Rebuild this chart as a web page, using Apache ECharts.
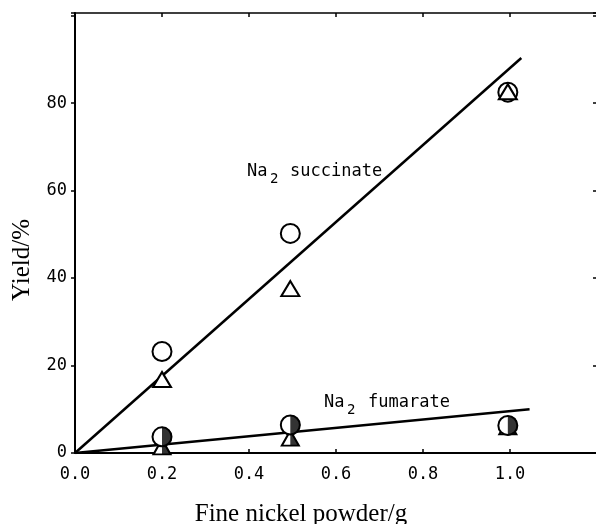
<!DOCTYPE html>
<html>
<head>
<meta charset="utf-8">
<script src="https://cdn.jsdelivr.net/npm/echarts@6/dist/echarts.min.js"></script>
<style>
  html, body { margin: 0; padding: 0; overflow: hidden; background: #fff; }
  #chart { width: 600px; height: 524px; }
</style>
</head>
<body>
<div id="chart"></div>
<script>
// values
let powder = [0.2, 0.495, 0.995];
let succinateCircle = [23.2, 50.2, 82.5];
let succinateTriangle = [16.8, 37.6, 82.6];
let fumarateCircle = [3.7, 6.4, 6.3];
let fumarateTriangle = [1.4, 3.4, 6.0];
let succinateFit = [[0, 0], [1.026, 90.3]];
let fumarateFit = [[0, 0], [1.045, 10]];
let xTicks = ["0.0", "0.2", "0.4", "0.6", "0.8", "1.0"];
let yTicks = ["0", "20", "40", "60", "80"];

const mono = "DejaVu Sans Mono";
const serif = "Liberation Serif";

function pts(ys) {
  return powder.map((x, i) => [x, ys[i]]);
}

const halfDisc = "path://M0,0 A10,10 0 0,1 0,20 Z";
const halfTri = "path://M0,0 L10,20 L0,20 Z";

let eChart = echarts.init(document.getElementById("chart"));

let scatterBase = {
  type: "scatter",
  silent: true,
  itemStyle: { color: "#fff", borderColor: "#000", borderWidth: 2, opacity: 1 }
};

function label(text, left, top, size) {
  return {
    type: "text", left: left, top: top,
    style: { text: text, fontFamily: mono, fontSize: size, fill: "#000" }
  };
}

let option = {
  animation: false,
  backgroundColor: "#fff",
  grid: { left: 75, right: 0, top: 13, bottom: 71 },
  xAxis: [
    {
      type: "value", min: 0, max: 1.2, interval: 0.2,
      axisLine: { show: true, onZero: false, lineStyle: { color: "#000", width: 2 } },
      axisTick: { show: true, inside: true, length: 4, lineStyle: { color: "#000", width: 1.5 } },
      splitLine: { show: false },
      axisLabel: {
        margin: 13, color: "#000", fontFamily: mono, fontSize: 17,
        formatter: (v, i) => xTicks[i] || ""
      }
    },
    {
      type: "value", position: "top", min: 0, max: 1.2, interval: 0.2,
      axisLine: { show: true, onZero: false, lineStyle: { color: "#000", width: 1.5 } },
      axisTick: { show: true, inside: true, length: 4, lineStyle: { color: "#000", width: 1.5 } },
      splitLine: { show: false },
      axisLabel: { show: false }
    }
  ],
  yAxis: [
    {
      type: "value", min: 0, max: 100.6, interval: 20,
      axisLine: { show: true, onZero: false, lineStyle: { color: "#000", width: 2 } },
      axisTick: { show: true, length: 4, lineStyle: { color: "#000", width: 1.5 } },
      splitLine: { show: false },
      axisLabel: {
        margin: 8, color: "#000", fontFamily: mono, fontSize: 17,
        formatter: (v, i) => yTicks[i] || ""
      }
    },
    {
      type: "value", position: "right", min: 0, max: 100.6, interval: 20,
      axisLine: { show: true, onZero: false, lineStyle: { color: "#000", width: 1.5 } },
      axisTick: { show: true, inside: true, length: 4, lineStyle: { color: "#000", width: 1.5 } },
      splitLine: { show: false },
      axisLabel: { show: false }
    }
  ],
  series: [
    {
      type: "line", data: succinateFit, showSymbol: false, silent: true, z: 2,
      lineStyle: { color: "#000", width: 2.5 }
    },
    {
      type: "line", data: fumarateFit, showSymbol: false, silent: true, z: 2,
      lineStyle: { color: "#000", width: 2.5 }
    },
    // fumarate: half filled markers
    Object.assign({}, scatterBase, { data: pts(fumarateTriangle), symbol: "triangle", symbolSize: [17, 15], z: 3 }),
    Object.assign({}, scatterBase, {
      data: pts(fumarateTriangle), symbol: halfTri, symbolSize: [8.5, 15], symbolOffset: [4.25, 0], z: 4,
      itemStyle: { color: "#000", borderWidth: 0 }
    }),
    Object.assign({}, scatterBase, { data: pts(fumarateCircle), symbol: "circle", symbolSize: 19, z: 5 }),
    Object.assign({}, scatterBase, {
      data: pts(fumarateCircle), symbol: halfDisc, symbolSize: [10, 20], symbolOffset: [5, 0], z: 6,
      itemStyle: { color: "#000", borderWidth: 0 }
    }),
    // succinate: open markers
    Object.assign({}, scatterBase, { data: pts(succinateCircle), symbol: "circle", symbolSize: 19, z: 7 }),
    Object.assign({}, scatterBase, { data: pts(succinateTriangle), symbol: "triangle", symbolSize: [18, 15], z: 8 })
  ],
  graphic: [
    label("Na", 247, 163, 17),
    label("2", 270, 172, 14),
    label("succinate", 290, 163, 17),
    label("Na", 324, 394, 17),
    label("2", 347, 403, 14),
    label("fumarate", 368, 394, 17),
    {
      type: "text", x: 301, y: 514,
      style: {
        text: "Fine nickel powder/g", fontFamily: serif, fontSize: 25, fill: "#000",
        align: "center", verticalAlign: "middle"
      }
    },
    {
      type: "text", x: 22, y: 260, rotation: Math.PI / 2,
      style: {
        text: "Yield/%", fontFamily: serif, fontSize: 25, fill: "#000",
        align: "center", verticalAlign: "middle"
      }
    }
  ]
};

eChart.setOption(option, true);
</script>
</body>
</html>
